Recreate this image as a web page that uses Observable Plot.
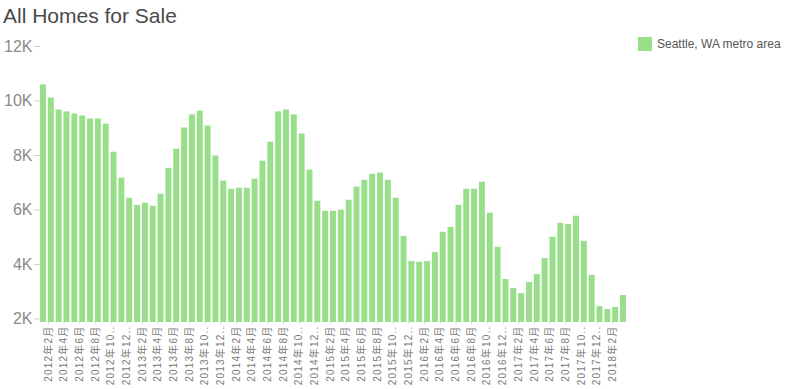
<!DOCTYPE html>
<html>
<head>
<meta charset="utf-8">
<script src="https://cdn.jsdelivr.net/npm/d3@7"></script>
<script src="https://cdn.jsdelivr.net/npm/@observablehq/plot@0.6"></script>
<style>
  body { margin: 0; background: #fff; font-family: "Liberation Sans", Arial, "Noto Sans CJK SC", sans-serif; }
  #wrap { position: relative; width: 796px; height: 389px; overflow: hidden; }
  #chart { position: absolute; left: 0; top: 0; }
  #title { position: absolute; left: 3px; top: 5px; font-size: 21px; line-height: 21px; color: #4a4a4a; white-space: nowrap; }
  #legend { position: absolute; left: 638px; top: 37px; height: 14px; font-size: 12px; color: #555; display: flex; align-items: center; white-space: nowrap; }
  #legend .sw { width: 14px; height: 14px; background: #98df8a; margin-right: 5px; }
</style>
</head>
<body>
<div id="wrap">
  <div id="chart"></div>
  <div id="title">All Homes for Sale</div>
  <div id="legend"><span class="sw"></span><span id="legendText"></span></div>
</div>
<script>
const seriesName = "Seattle, WA metro area";
const barColor = "#98df8a";

const months = [
  "2012年1月","2012年2月","2012年3月","2012年4月","2012年5月","2012年6月","2012年7月","2012年8月","2012年9月","2012年10月","2012年11月","2012年12月",
  "2013年1月","2013年2月","2013年3月","2013年4月","2013年5月","2013年6月","2013年7月","2013年8月","2013年9月","2013年10月","2013年11月","2013年12月",
  "2014年1月","2014年2月","2014年3月","2014年4月","2014年5月","2014年6月","2014年7月","2014年8月","2014年9月","2014年10月","2014年11月","2014年12月",
  "2015年1月","2015年2月","2015年3月","2015年4月","2015年5月","2015年6月","2015年7月","2015年8月","2015年9月","2015年10月","2015年11月","2015年12月",
  "2016年1月","2016年2月","2016年3月","2016年4月","2016年5月","2016年6月","2016年7月","2016年8月","2016年9月","2016年10月","2016年11月","2016年12月",
  "2017年1月","2017年2月","2017年3月","2017年4月","2017年5月","2017年6月","2017年7月","2017年8月","2017年9月","2017年10月","2017年11月","2017年12月",
  "2018年1月","2018年2月","2018年3月"
];

const homesForSale = [
  10590, 10110, 9670, 9600, 9520, 9450, 9340, 9340, 9150, 8120, 7170, 6430,
  6170, 6250, 6140, 6580, 7530, 8230, 9010, 9490, 9630, 9080, 7980, 7060,
  6760, 6800, 6800, 7130, 7790, 8490, 9600, 9670, 9490, 8790, 7460, 6320,
  5950, 5950, 5990, 6360, 6840, 7090, 7310, 7350, 7090, 6430, 5030, 4110,
  4080, 4110, 4440, 5180, 5360, 6170, 6760, 6760, 7020, 5880, 4630, 3450,
  3120, 2930, 3340, 3630, 4220, 5000, 5510, 5470, 5770, 4850, 3600, 2460,
  2350, 2420, 2860
];

const yTicks = [2000, 4000, 6000, 8000, 10000, 12000];
const xTicks = ["2012年2月","2012年4月","2012年6月","2012年8月","2012年10月","2012年12月",
  "2013年2月","2013年4月","2013年6月","2013年8月","2013年10月","2013年12月",
  "2014年2月","2014年4月","2014年6月","2014年8月","2014年10月","2014年12月",
  "2015年2月","2015年4月","2015年6月","2015年8月","2015年10月","2015年12月",
  "2016年2月","2016年4月","2016年6月","2016年8月","2016年10月","2016年12月",
  "2017年2月","2017年4月","2017年6月","2017年8月","2017年10月","2017年12月",
  "2018年2月"];

document.getElementById("legendText").textContent = seriesName;

const data = months.map((m, i) => ({month: m, value: homesForSale[i]}));

const shortLabel = s => s.length >= 8 ? s.slice(0, 7) + ".." : s;

const chart = Plot.plot({
  width: 796,
  height: 389,
  marginLeft: 40,
  marginRight: 170,
  marginTop: 46,
  marginBottom: 67,
  style: {fontFamily: '"Liberation Sans", Arial, "Noto Sans CJK SC", sans-serif', background: "transparent"},
  x: {type: "band", domain: months, paddingInner: 0.24, paddingOuter: 0, label: null},
  y: {domain: [1870, 12000], clamp: true, label: null},
  marks: [
    Plot.barY(data, {x: "month", y: "value", fill: barColor}),
    Plot.axisY({ticks: yTicks, tickFormat: d => d / 1000 + "K", tickSize: 6, tickPadding: 2, fontSize: 16, stroke: "#d0d0d0", fill: "#8a8a8a", label: null}),
    Plot.axisX({ticks: xTicks, tickFormat: shortLabel, tickRotate: -90, tickSize: 2, tickPadding: 1, dx: -3, fontSize: 10, stroke: "#d8d8d8", fill: "#7a7a7a", label: null})
  ]
});
d3.select(chart).selectAll('g[aria-label="x-axis tick label"] text').style("letter-spacing", "1.2px");
document.getElementById("chart").appendChild(chart);
</script>
</body>
</html>
